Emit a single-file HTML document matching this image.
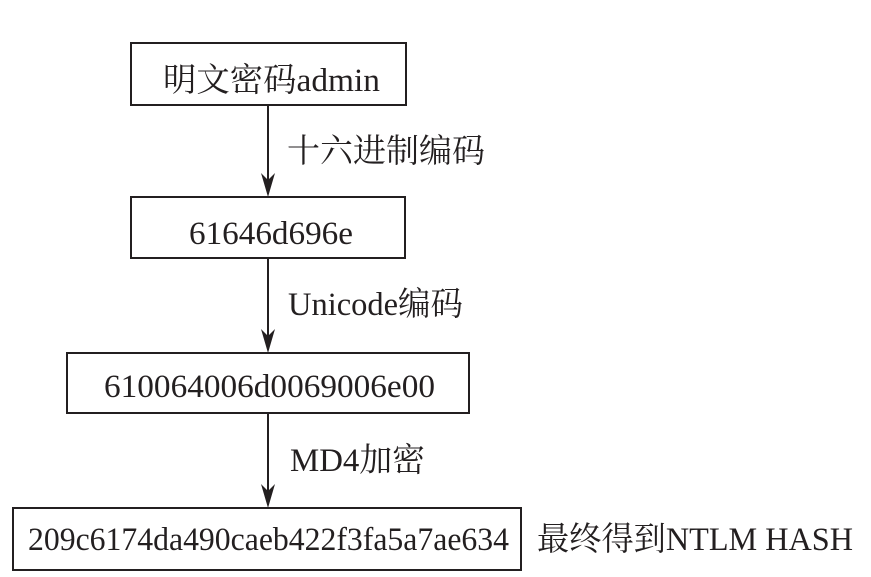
<!DOCTYPE html>
<html><head><meta charset="utf-8"><style>
html,body{margin:0;padding:0;background:#fff;}
svg{display:block;}
text{font-family:"Liberation Serif","Noto Serif CJK SC",serif;font-size:33px;fill:#231f20;}
</style></head><body>
<svg width="871" height="577" viewBox="0 0 871 577">
<g fill="none" stroke="#231f20" stroke-width="2">
<rect x="131" y="43" width="275" height="62"/>
<rect x="131" y="197" width="274" height="61"/>
<rect x="67" y="353" width="402" height="60"/>
<rect x="13" y="508" width="508" height="62"/>
<line x1="268" y1="105" x2="268" y2="180"/>
<line x1="268" y1="258" x2="268" y2="336"/>
<line x1="268" y1="413" x2="268" y2="492"/>
</g>
<g fill="#231f20">
<polygon points="261,173 268,197 275,173 268,180"/>
<polygon points="261,329 268,353 275,329 268,336"/>
<polygon points="261,484 268,508 275,484 268,491"/>
</g>
<text x="163" y="91" textLength="217" lengthAdjust="spacingAndGlyphs">明文密码admin</text>
<text x="189" y="244" textLength="164" lengthAdjust="spacingAndGlyphs">61646d696e</text>
<text x="104" y="397" textLength="331" lengthAdjust="spacingAndGlyphs">610064006d0069006e00</text>
<text x="28" y="550" textLength="481" lengthAdjust="spacingAndGlyphs">209c6174da490caeb422f3fa5a7ae634</text>
<text x="287" y="162" textLength="198" lengthAdjust="spacingAndGlyphs">十六进制编码</text>
<text x="288" y="315" textLength="175" lengthAdjust="spacingAndGlyphs">Unicode编码</text>
<text x="290" y="471" textLength="135" lengthAdjust="spacingAndGlyphs">MD4加密</text>
<text x="537" y="550" textLength="316" lengthAdjust="spacingAndGlyphs">最终得到NTLM HASH</text>
</svg>
</body></html>
